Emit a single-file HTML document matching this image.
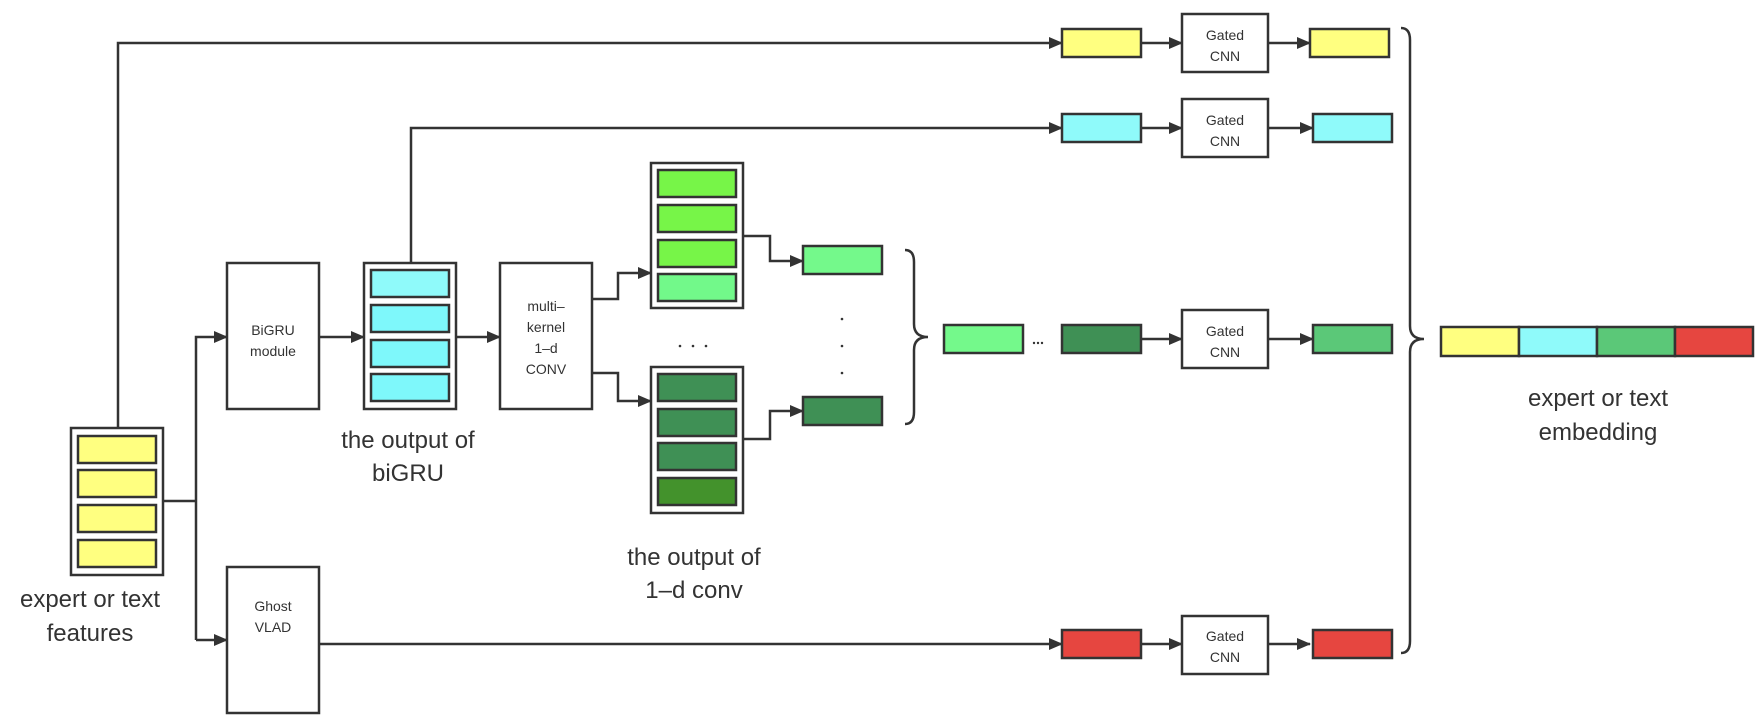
<!DOCTYPE html>
<html><head><meta charset="utf-8"><style>
html,body{margin:0;padding:0;background:#fff;}
svg{display:block;}
text{font-family:"Liberation Sans","DejaVu Sans",sans-serif;fill:#333;}
</style></head><body>
<svg width="1762" height="726" viewBox="0 0 1762 726" xmlns="http://www.w3.org/2000/svg">
<defs>
<marker id="ar" markerWidth="14" markerHeight="12" refX="13" refY="6" orient="auto" markerUnits="userSpaceOnUse">
<path d="M0,0 L14,6 L0,12 Z" fill="#333"/></marker>
</defs>
<g stroke="#333" stroke-width="2.5" fill="none">
<polyline points="118,428 118,43 1062,43" marker-end="url(#ar)"/>
<polyline points="411,263 411,128 1062,128" marker-end="url(#ar)"/>
<polyline points="163,501 196,501"/>
<polyline points="196,640 196,337 227,337" marker-end="url(#ar)"/>
<polyline points="196,640 227,640" marker-end="url(#ar)"/>
<line x1="319" y1="337" x2="364" y2="337" marker-end="url(#ar)"/>
<line x1="456" y1="337" x2="500" y2="337" marker-end="url(#ar)"/>
<polyline points="592,299 618,299 618,273 651,273" marker-end="url(#ar)"/>
<polyline points="592,373 618,373 618,401 651,401" marker-end="url(#ar)"/>
<polyline points="743,236 770,236 770,261 803,261" marker-end="url(#ar)"/>
<polyline points="743,439 770,439 770,411 803,411" marker-end="url(#ar)"/>
<line x1="319" y1="644" x2="1062" y2="644" marker-end="url(#ar)"/>
<line x1="1141" y1="43" x2="1182" y2="43" marker-end="url(#ar)"/>
<line x1="1268" y1="43" x2="1310" y2="43" marker-end="url(#ar)"/>
<line x1="1141" y1="128" x2="1182" y2="128" marker-end="url(#ar)"/>
<line x1="1268" y1="128" x2="1313" y2="128" marker-end="url(#ar)"/>
<line x1="1141" y1="339" x2="1182" y2="339" marker-end="url(#ar)"/>
<line x1="1268" y1="339" x2="1313" y2="339" marker-end="url(#ar)"/>
<line x1="1141" y1="644" x2="1182" y2="644" marker-end="url(#ar)"/>
<line x1="1268" y1="644" x2="1310" y2="644" marker-end="url(#ar)"/>
<path d="M905,250 Q914,250 914,262 L914,324 Q914,337 928,337 Q914,337 914,350 L914,412 Q914,424 905,424"/>
<path d="M1401,28 Q1410,28 1410,40 L1410,326 Q1410,339 1424,339 Q1410,339 1410,352 L1410,641 Q1410,653 1401,653"/>
</g>
<g stroke="#333" stroke-width="2.5">
<rect x="71" y="428" width="92" height="147" fill="#fff"/>
<rect x="78" y="436" width="78" height="27" fill="#ffff80"/>
<rect x="78" y="470" width="78" height="27" fill="#ffff80"/>
<rect x="78" y="505" width="78" height="27" fill="#ffff80"/>
<rect x="78" y="540" width="78" height="27" fill="#ffff80"/>
<rect x="227" y="263" width="92" height="146" fill="#fff"/>
<rect x="227" y="567" width="92" height="146" fill="#fff"/>
<rect x="364" y="263" width="92" height="146" fill="#fff"/>
<rect x="371" y="270" width="78" height="27" fill="#8ffafa"/>
<rect x="371" y="305" width="78" height="27" fill="#7ef8fb"/>
<rect x="371" y="340" width="78" height="27" fill="#7ef8fb"/>
<rect x="371" y="374" width="78" height="27" fill="#7ef8fb"/>
<rect x="500" y="263" width="92" height="146" fill="#fff"/>
<rect x="651" y="163" width="92" height="145" fill="#fff"/>
<rect x="658" y="170" width="78" height="27" fill="#77f548"/>
<rect x="658" y="205" width="78" height="27" fill="#77f548"/>
<rect x="658" y="240" width="78" height="27" fill="#77f548"/>
<rect x="658" y="274" width="78" height="27" fill="#72f98a"/>
<rect x="651" y="367" width="92" height="146" fill="#fff"/>
<rect x="658" y="374" width="78" height="27" fill="#3f9055"/>
<rect x="658" y="409" width="78" height="27" fill="#3f9055"/>
<rect x="658" y="443" width="78" height="27" fill="#3f9055"/>
<rect x="658" y="478" width="78" height="27" fill="#43922c"/>
<rect x="803" y="246" width="79" height="28" fill="#74f98b"/>
<rect x="803" y="397" width="79" height="28" fill="#3f9055"/>
<rect x="1062" y="29" width="79" height="28" fill="#ffff80"/>
<rect x="1182" y="14" width="86" height="58" fill="#fff"/>
<rect x="1310" y="29" width="79" height="28" fill="#ffff80"/>
<rect x="1062" y="114" width="79" height="28" fill="#8ffafa"/>
<rect x="1182" y="99" width="86" height="58" fill="#fff"/>
<rect x="1313" y="114" width="79" height="28" fill="#8ffafa"/>
<rect x="944" y="325" width="79" height="28" fill="#74f98b"/>
<rect x="1062" y="325" width="79" height="28" fill="#3f9055"/>
<rect x="1182" y="310" width="86" height="58" fill="#fff"/>
<rect x="1313" y="325" width="79" height="28" fill="#5bc878"/>
<rect x="1062" y="630" width="79" height="28" fill="#e64640"/>
<rect x="1182" y="616" width="86" height="58" fill="#fff"/>
<rect x="1313" y="630" width="79" height="28" fill="#e64640"/>
<rect x="1441" y="327" width="78" height="29" fill="#ffff80"/>
<rect x="1519" y="327" width="78" height="29" fill="#8ffafa"/>
<rect x="1597" y="327" width="78" height="29" fill="#5bc878"/>
<rect x="1675" y="327" width="78" height="29" fill="#e64640"/>
</g>
<g fill="#333">
<circle cx="680" cy="346" r="1.3"/><circle cx="693" cy="346" r="1.3"/><circle cx="706" cy="346" r="1.3"/>
<circle cx="842" cy="319" r="1.3"/><circle cx="842" cy="346" r="1.3"/><circle cx="842" cy="373" r="1.3"/>
<circle cx="1034" cy="343" r="1.2"/><circle cx="1038" cy="343" r="1.2"/><circle cx="1042" cy="343" r="1.2"/>
</g>
<g font-size="14" text-anchor="middle">
<text x="273" y="335">BiGRU</text><text x="273" y="356">module</text>
<text x="273" y="611">Ghost</text><text x="273" y="632">VLAD</text>
<text x="546" y="311">multi–</text><text x="546" y="332">kernel</text><text x="546" y="353">1–d</text><text x="546" y="374">CONV</text>
<text x="1225" y="40">Gated</text><text x="1225" y="61">CNN</text>
<text x="1225" y="125">Gated</text><text x="1225" y="146">CNN</text>
<text x="1225" y="336">Gated</text><text x="1225" y="357">CNN</text>
<text x="1225" y="641">Gated</text><text x="1225" y="662">CNN</text>
</g>
<g font-size="24" text-anchor="middle">
<text x="90" y="607">expert or text</text><text x="90" y="641">features</text>
<text x="408" y="448">the output of</text><text x="408" y="481">biGRU</text>
<text x="694" y="565">the output of</text><text x="694" y="598">1–d conv</text>
<text x="1598" y="406">expert or text</text><text x="1598" y="440">embedding</text>
</g>
</svg>
</body></html>
